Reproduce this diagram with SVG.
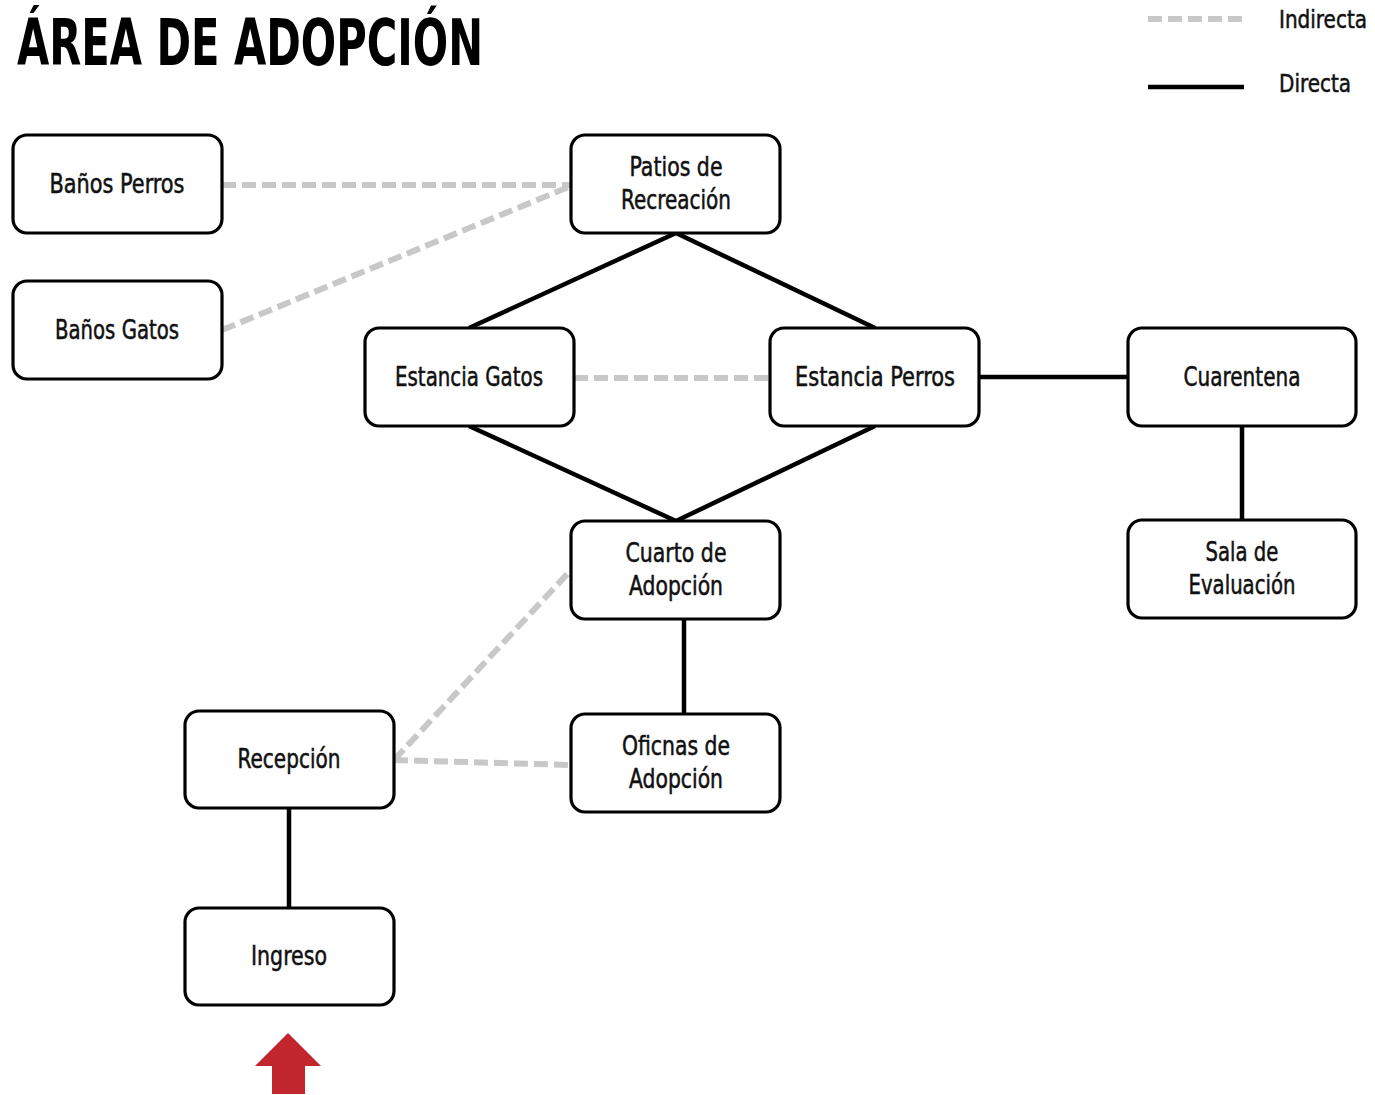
<svg xmlns="http://www.w3.org/2000/svg" width="1375" height="1095" viewBox="0 0 1375 1095">
<style>
.box{fill:#fff;stroke:#000;stroke-width:3.2}
.t{font-family:"Liberation Sans Narrow","DejaVu Sans Condensed",sans-serif;font-size:26px;fill:#111;stroke:#111;stroke-width:0.5;text-anchor:middle}
.solid{stroke:#000;stroke-width:4.5;fill:none}
.dash{stroke:#c8c8c8;stroke-width:6;stroke-dasharray:14 6;fill:none}
.title{font-family:"Liberation Sans Narrow","DejaVu Sans Condensed",sans-serif;font-weight:bold;font-size:64px;fill:#000}
.leg{font-family:"Liberation Sans Narrow","DejaVu Sans Condensed",sans-serif;font-size:25px;fill:#111;stroke:#111;stroke-width:0.5}
</style>
<rect width="1375" height="1095" fill="#fff"/>
<text class="title" x="17" y="65" textLength="466" lengthAdjust="spacingAndGlyphs">ÁREA DE ADOPCIÓN</text>
<g id="legend">
<line class="dash" x1="1148" y1="19" x2="1244" y2="19"/>
<line class="solid" x1="1148" y1="87" x2="1244" y2="87"/>
<text class="leg" x="1367" y="28" text-anchor="end" textLength="88" lengthAdjust="spacingAndGlyphs">Indirecta</text>
<text class="leg" x="1279" y="92" textLength="72" lengthAdjust="spacingAndGlyphs">Directa</text>
</g>
<g id="connectors">
<line class="dash" x1="222" y1="185" x2="571" y2="185"/>
<line class="dash" x1="222" y1="330" x2="571" y2="186"/>
<line class="solid" x1="676" y1="233" x2="469" y2="328"/>
<line class="solid" x1="676" y1="233" x2="875" y2="328"/>
<line class="dash" x1="574" y1="378" x2="770" y2="378"/>
<line class="solid" x1="979" y1="377" x2="1128" y2="377"/>
<line class="solid" x1="1242" y1="426" x2="1242" y2="520"/>
<line class="solid" x1="469" y1="426" x2="676" y2="521"/>
<line class="solid" x1="875" y1="426" x2="676" y2="521"/>
<line class="solid" x1="684" y1="619" x2="684" y2="714"/>
<line class="dash" x1="394" y1="760" x2="571" y2="570"/>
<line class="dash" x1="394" y1="760" x2="571" y2="765"/>
<line class="solid" x1="289" y1="808" x2="289" y2="908"/>
</g>
<g id="banos-perros"><rect class="box" x="13" y="135" width="209" height="98" rx="14"/><text class="t" x="117" y="193" textLength="135" lengthAdjust="spacingAndGlyphs">Baños Perros</text></g>
<g id="banos-gatos"><rect class="box" x="13" y="281" width="209" height="98" rx="14"/><text class="t" x="117" y="339" textLength="124" lengthAdjust="spacingAndGlyphs">Baños Gatos</text></g>
<g id="patios"><rect class="box" x="571" y="135" width="209" height="98" rx="14"/><text class="t" x="676" y="176" textLength="93" lengthAdjust="spacingAndGlyphs">Patios de</text><text class="t" x="676" y="209" textLength="110" lengthAdjust="spacingAndGlyphs">Recreación</text></g>
<g id="estancia-gatos"><rect class="box" x="365" y="328" width="209" height="98" rx="14"/><text class="t" x="469" y="386" textLength="148" lengthAdjust="spacingAndGlyphs">Estancia Gatos</text></g>
<g id="estancia-perros"><rect class="box" x="770" y="328" width="209" height="98" rx="14"/><text class="t" x="875" y="386" textLength="160" lengthAdjust="spacingAndGlyphs">Estancia Perros</text></g>
<g id="cuarentena"><rect class="box" x="1128" y="328" width="228" height="98" rx="14"/><text class="t" x="1242" y="386" textLength="117" lengthAdjust="spacingAndGlyphs">Cuarentena</text></g>
<g id="sala-evaluacion"><rect class="box" x="1128" y="520" width="228" height="98" rx="14"/><text class="t" x="1242" y="561" textLength="73" lengthAdjust="spacingAndGlyphs">Sala de</text><text class="t" x="1242" y="594" textLength="107" lengthAdjust="spacingAndGlyphs">Evaluación</text></g>
<g id="cuarto-adopcion"><rect class="box" x="571" y="521" width="209" height="98" rx="14"/><text class="t" x="676" y="562" textLength="101" lengthAdjust="spacingAndGlyphs">Cuarto de</text><text class="t" x="676" y="595" textLength="94" lengthAdjust="spacingAndGlyphs">Adopción</text></g>
<g id="oficinas-adopcion"><rect class="box" x="571" y="714" width="209" height="98" rx="14"/><text class="t" x="676" y="755" textLength="108" lengthAdjust="spacingAndGlyphs">Oficnas de</text><text class="t" x="676" y="788" textLength="94" lengthAdjust="spacingAndGlyphs">Adopción</text></g>
<g id="recepcion"><rect class="box" x="185" y="711" width="209" height="97" rx="14"/><text class="t" x="289" y="768" textLength="103" lengthAdjust="spacingAndGlyphs">Recepción</text></g>
<g id="ingreso"><rect class="box" x="185" y="908" width="209" height="97" rx="14"/><text class="t" x="289" y="965" textLength="76" lengthAdjust="spacingAndGlyphs">Ingreso</text></g>
<g id="entrada"><polygon points="288,1033 321,1066 305,1066 305,1094 272,1094 272,1066 255,1066" fill="#c1272d"/></g>
</svg>
